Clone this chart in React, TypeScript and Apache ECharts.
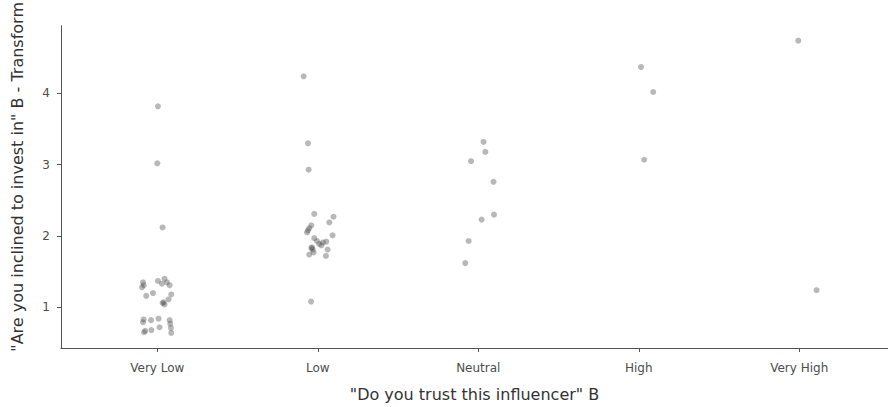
import React, { useEffect, useRef } from "react";
import * as echarts from "echarts";

const categories = ["Very Low", "Low", "Neutral", "High", "Very High"];
const yTicks = [1, 2, 3, 4];

// jittered x positions (category index 1..5 plus jitter) and y values
const veryLowX = [1.004, 1.0, 1.033, 0.911, 0.915, 0.905, 1.004, 1.029, 1.045, 1.06, 1.077, 0.931, 0.973, 1.087, 1.07, 1.039, 1.045, 1.033, 0.915, 0.911, 0.961, 1.008, 1.077, 1.081, 1.014, 0.963, 0.917, 0.925, 1.085, 1.087];
const veryLowY = [3.82, 3.02, 2.12, 1.35, 1.31, 1.28, 1.37, 1.33, 1.4, 1.35, 1.31, 1.16, 1.2, 1.18, 1.11, 1.07, 1.04, 1.06, 0.83, 0.79, 0.82, 0.84, 0.82, 0.77, 0.72, 0.68, 0.65, 0.67, 0.71, 0.64];

const lowX = [1.912, 1.939, 1.943, 1.958, 1.978, 2.098, 2.072, 1.96, 1.947, 1.939, 1.933, 2.092, 1.978, 1.995, 2.009, 2.032, 2.053, 2.022, 1.964, 1.96, 1.968, 2.061, 1.974, 1.947, 2.051];
const lowY = [4.24, 3.3, 2.93, 1.08, 2.31, 2.27, 2.19, 2.15, 2.11, 2.08, 2.05, 2.01, 1.97, 1.93, 1.89, 1.91, 1.92, 1.87, 1.84, 1.83, 1.81, 1.81, 1.77, 1.74, 1.72];

const neutralX = [3.033, 3.044, 2.955, 3.095, 3.098, 3.021, 2.94, 2.919];
const neutralY = [3.32, 3.18, 3.05, 2.76, 2.3, 2.23, 1.93, 1.62];

const highX = [4.014, 4.09, 4.034];
const highY = [4.37, 4.02, 3.07];

const veryHighX = [4.994, 5.108];
const veryHighY = [4.74, 1.24];

const allX = [...veryLowX, ...lowX, ...neutralX, ...highX, ...veryHighX];
const allY = [...veryLowY, ...lowY, ...neutralY, ...highY, ...veryHighY];

const FONT = "'DejaVu Sans', 'Liberation Sans', Arial, sans-serif";

export default function App() {
  const ref = useRef<HTMLDivElement>(null);
  useEffect(() => {
    if (!ref.current) return;
    const chart = echarts.init(ref.current, undefined, { renderer: "svg" });
    const data = allX.map((x, i) => [x, allY[i]]);
    chart.setOption({
      animation: false,
      backgroundColor: "#ffffff",
      grid: { left: 61, right: 0, top: 23, bottom: 57, containLabel: false },
      xAxis: {
        type: "value",
        min: 0.4,
        max: 5.553,
        name: '"Do you trust this influencer" B',
        nameLocation: "middle",
        nameGap: 38,
        nameTextStyle: { fontFamily: FONT, fontSize: 16, color: "#333333" },
        splitLine: { show: false },
        axisLine: { show: true, onZero: false, lineStyle: { color: "#555555", width: 1 } },
        axisTick: {
          show: true,
          length: 4,
          customValues: categories.map((_, i) => i + 1),
          lineStyle: { color: "#555555" },
        },
        axisLabel: {
          customValues: categories.map((_, i) => i + 1),
          formatter: (v: number) => categories[Math.round(v) - 1] ?? "",
          fontFamily: FONT,
          fontSize: 12,
          color: "#4d4d4d",
          margin: 14,
        },
      },
      yAxis: {
        type: "value",
        min: 0.429,
        max: 4.95,
        name: '"Are you inclined to invest in" B - Transform',
        nameLocation: "middle",
        nameGap: 36,
        nameTextStyle: {
          fontFamily: FONT,
          fontSize: 16,
          color: "#333333",
          padding: [0, 0, 0, 20],
        },
        splitLine: { show: false },
        axisLine: { show: true, onZero: false, lineStyle: { color: "#555555", width: 1 } },
        axisTick: {
          show: true,
          length: 4,
          customValues: yTicks,
          lineStyle: { color: "#555555" },
        },
        axisLabel: {
          customValues: yTicks,
          fontFamily: FONT,
          fontSize: 12,
          color: "#4d4d4d",
          margin: 11,
        },
      },
      series: [
        {
          type: "scatter",
          data,
          symbol: "circle",
          symbolSize: 6,
          itemStyle: { color: "rgba(77,77,77,0.5)", borderWidth: 0 },
          clip: true,
        },
      ],
    });
    return () => chart.dispose();
  }, []);
  return (
    <div
      ref={ref}
      style={{ position: "fixed", left: 0, top: 0, width: 888, height: 407 }}
    />
  );
}
